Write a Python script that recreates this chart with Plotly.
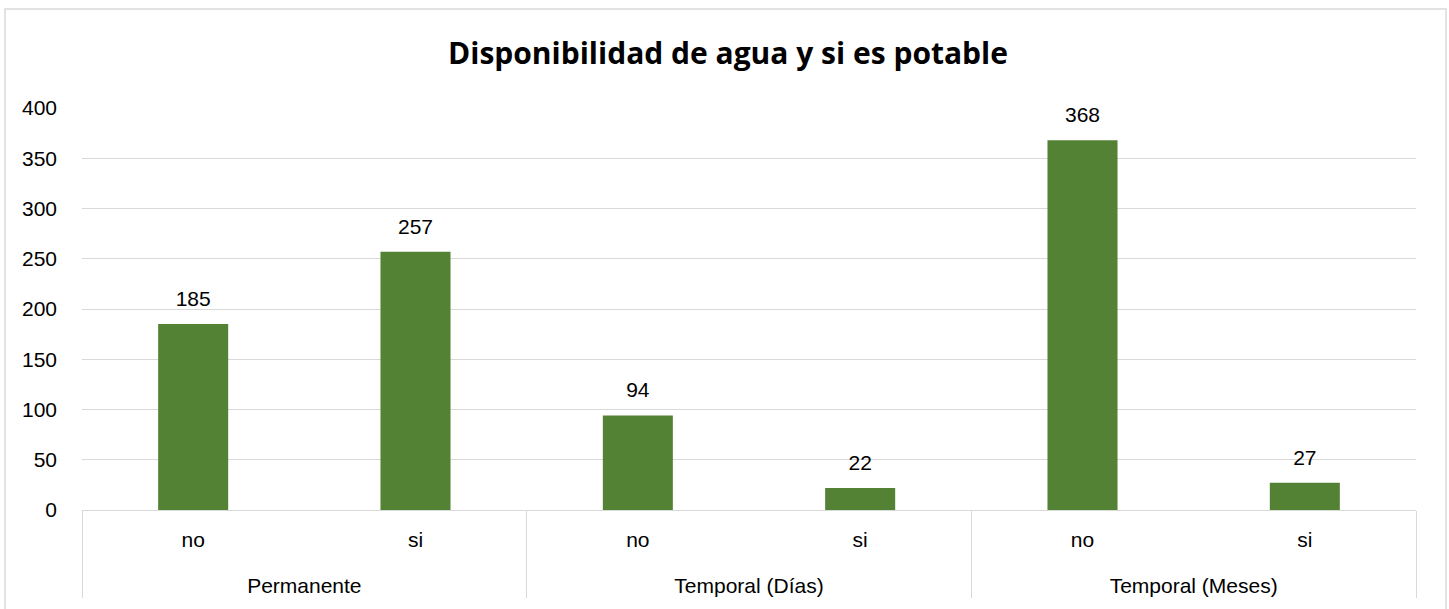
import plotly.graph_objects as go

groups = ["Permanente", "Permanente", "Temporal (Días)", "Temporal (Días)", "Temporal (Meses)", "Temporal (Meses)"]
subs = ["no", "si", "no", "si", "no", "si"]
values = [185, 257, 94, 22, 368, 27]
y_ticks = [0, 50, 100, 150, 200, 250, 300, 350, 400]

BAR = "#548235"
GRID = "#d9d9d9"
LABEL_FONT = "Liberation Sans, Arial, sans-serif"

# sub-category labels with an invisible spacer line to open space before the group row
sub_labels = [f"{s}<br><span style='font-size:44px'> </span>" for s in subs]
xcats = [groups, sub_labels]

fig = go.Figure()
fig.add_trace(go.Bar(
    x=xcats,
    y=values,
    marker=dict(color=BAR, line=dict(width=0)),
    hovertemplate="%{y}<extra></extra>",
))
# data labels
fig.add_trace(go.Scatter(
    x=xcats,
    y=values,
    mode="markers+text",
    text=[str(v) for v in values],
    textposition="top center",
    textfont=dict(family=LABEL_FONT, size=21, color="#000000"),
    marker=dict(size=19, opacity=0),
    cliponaxis=False,
    hoverinfo="skip",
))

# outer chart border (left, top, right sides; bottom is cut off in the reference)
bx0, bx1, by0, by1 = -0.0577, 1.0225, -0.35, 1.2463
border_path = f"M {bx0},{by0} L {bx0},{by1} L {bx1},{by1} L {bx1},{by0}"

fig.update_layout(
    width=1449, height=609,
    margin=dict(l=82, r=33, t=108, b=99),
    paper_bgcolor="white", plot_bgcolor="white",
    bargap=0.685,
    showlegend=False,
    title=dict(
        text="<b>Disponibilidad de agua y si es potable</b>",
        x=728 / 1449, xref="container", xanchor="center",
        y=1 - 53 / 609, yref="container", yanchor="middle",
        font=dict(family="Open Sans, Noto Sans, sans-serif", size=30, color="#000000"),
    ),
    xaxis=dict(
        type="multicategory",
        showline=True, linecolor=GRID, linewidth=1,
        showdividers=True, dividercolor=GRID, dividerwidth=1,
        ticks="", showgrid=False,
        ticklabelstandoff=11,
        tickfont=dict(family=LABEL_FONT, size=21, color="#000000"),
    ),
    yaxis=dict(
        range=[0, 400],
        tickvals=y_ticks,
        showgrid=True, gridcolor=GRID, gridwidth=1,
        zeroline=False, showline=False, ticks="",
        ticklabelstandoff=24,
        tickfont=dict(family=LABEL_FONT, size=21, color="#000000"),
    ),
    shapes=[dict(
        type="path", xref="paper", yref="paper", path=border_path,
        line=dict(color=GRID, width=1.5), layer="below",
    )],
)

fig.write_html(
    "out.html",
    config={"displayModeBar": False},
    post_script="document.body.style.margin='0';",
)
